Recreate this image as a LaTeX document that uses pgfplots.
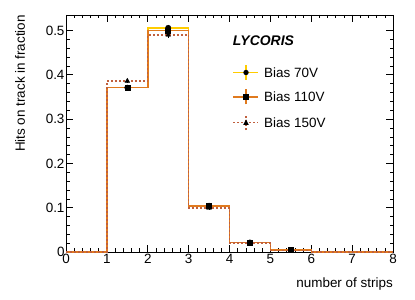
\documentclass[border=0pt]{standalone}
\usepackage{fontspec}
\setmainfont{Liberation Sans}
\usepackage{pgfplots}
\pgfplotsset{compat=1.18}
\definecolor{cyel}{HTML}{FFCC00}
\definecolor{corg}{HTML}{E07A1E}
\definecolor{cbrn}{HTML}{C0603E}
\begin{document}
\begin{tikzpicture}
\begin{axis}[
  scale only axis, width=327bp, height=237bp,
  xmin=0, xmax=8, ymin=0, ymax=0.535,
  clip=false,
  axis line style={black, line width=0.6bp},
  tick style={black, line width=0.6bp},
  tick align=inside,
  major tick length=7bp, minor tick length=3.5bp,
  xtick={0,1,...,8}, ytick={0,0.1,...,0.5},
  yticklabels={0,0.1,0.2,0.3,0.4,0.5},
  minor x tick num=4, minor y tick num=4,
  xtick pos=both, ytick pos=both,
  xticklabel pos=lower, yticklabel pos=left,
  ticklabel style={font=\fontsize{13.5}{16}\selectfont},
  /pgf/number format/assume math mode=true,
  xticklabel style={yshift=1bp},
  yticklabel style={xshift=2bp},
]
% histograms
\addplot[const plot, cyel, line width=1.5bp] coordinates {(0,0)(1,0.371)(2,0.506)(3,0.1045)(4,0.0215)(5,0.0045)(6,0)(7,0)(8,0)};
\addplot[const plot, corg, line width=1.5bp] coordinates {(0,0)(1,0.371)(2,0.500)(3,0.104)(4,0.021)(5,0.0045)(6,0)(7,0)(8,0)};
\addplot[const plot, cbrn, line width=1.3bp, dash pattern=on 2bp off 2bp] coordinates {(0,0)(1,0.386)(2,0.490)(3,0.099)(4,0.020)(5,0.004)(6,0)(7,0)(8,0)};
% points
\addplot[only marks, mark=*, mark size=2.7bp, black, error bars/.cd, y dir=both, y explicit, error bar style={line width=1bp}, error mark=none]
 coordinates {(1.5,0.371)+-(0,0.005) (2.5,0.506)+-(0,0.006) (3.5,0.1045)+-(0,0.004) (4.5,0.0215)+-(0,0.002) (5.5,0.0045)+-(0,0.001)};
\addplot[only marks, mark=square*, mark size=2.5bp, black, error bars/.cd, y dir=both, y explicit, error bar style={line width=1bp}, error mark=none]
 coordinates {(1.5,0.371)+-(0,0.005) (2.5,0.500)+-(0,0.006) (3.5,0.104)+-(0,0.004) (4.5,0.021)+-(0,0.002) (5.5,0.0045)+-(0,0.001)};
\addplot[only marks, mark=triangle*, mark size=2.7bp, black, error bars/.cd, y dir=both, y explicit, error bar style={line width=1bp}, error mark=none]
 coordinates {(1.5,0.386)+-(0,0.005) (2.5,0.490)+-(0,0.006) (3.5,0.099)+-(0,0.004) (4.5,0.020)+-(0,0.002) (5.5,0.004)+-(0,0.001)};
% legend (drawn by hand)
\draw[cyel, line width=1.5bp] (axis cs:4.086,0.4052) -- (axis cs:4.697,0.4052);
\draw[cyel, line width=1.5bp] ([yshift=-7.5bp]axis cs:4.404,0.4052) -- ([yshift=7.5bp]axis cs:4.404,0.4052);
\fill[black] (axis cs:4.404,0.4052) circle (2.7bp);
\node[anchor=west, inner sep=0, font=\fontsize{13.5}{16}\selectfont] at (axis cs:4.844,0.4052) {Bias 70V};
\draw[corg, line width=1.5bp] (axis cs:4.086,0.3499) -- (axis cs:4.697,0.3499);
\draw[corg, line width=1.5bp] ([yshift=-7.5bp]axis cs:4.404,0.3499) -- ([yshift=7.5bp]axis cs:4.404,0.3499);
\fill[black] ([shift={(-2.6bp,-2.6bp)}]axis cs:4.404,0.3499) rectangle ([shift={(2.6bp,2.6bp)}]axis cs:4.404,0.3499);
\node[anchor=west, inner sep=0, font=\fontsize{13.5}{16}\selectfont] at (axis cs:4.844,0.3499) {Bias 110V};
\draw[cbrn, line width=1.2bp, dash pattern=on 2bp off 2bp] (axis cs:4.086,0.2919) -- (axis cs:4.697,0.2919);
\draw[cbrn, line width=1.2bp, dash pattern=on 2bp off 2bp] ([yshift=-7.5bp]axis cs:4.404,0.2919) -- ([yshift=7.5bp]axis cs:4.404,0.2919);
\fill[black] ([yshift=3.2bp]axis cs:4.404,0.2919) -- ([shift={(-2.8bp,-2.2bp)}]axis cs:4.404,0.2919) -- ([shift={(2.8bp,-2.2bp)}]axis cs:4.404,0.2919) -- cycle;
\node[anchor=west, inner sep=0, font=\fontsize{13.5}{16}\selectfont] at (axis cs:4.844,0.2919) {Bias 150V};
\node[font=\fontsize{14}{16}\selectfont\bfseries\itshape, anchor=west, inner sep=0] at (axis cs:4.08,0.476) {LYCORIS};
\node[rotate=90, anchor=base east, inner sep=0, font=\fontsize{13.5}{16}\selectfont] at ([xshift=-41bp]rel axis cs:0,1) {Hits on track in fraction};
\node[anchor=base east, inner sep=0, font=\fontsize{13.5}{16}\selectfont] at ([yshift=-35bp]rel axis cs:1,0) {number of strips};
\end{axis}
\path ([shift={(-66bp,-48bp)}]current axis.south west) rectangle ([shift={(22bp,15bp)}]current axis.north east);
\end{tikzpicture}
\end{document}
